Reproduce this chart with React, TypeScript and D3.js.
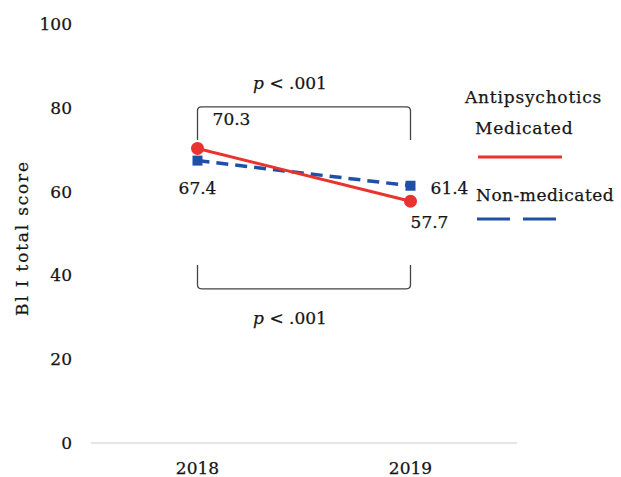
import * as d3 from 'd3';

const years = ['2018', '2019'];
const medicated = [70.3, 57.7];
const nonMedicated = [67.4, 61.4];
const yTicks = [0, 20, 40, 60, 80, 100];
const pLabels = ['p', ' < .001'];

const RED = '#e8332f';
const BLUE = '#1f4fa6';
const FONT = '"DejaVu Serif", serif';

export default function App() {
  const width = 621;
  const height = 477;
  const x = d3.scalePoint<string>().domain(years).range([91, 517]).padding(0.5);
  const y = d3.scaleLinear().domain([0, 100]).range([443, 24]);

  const line = d3
    .line<number>()
    .x((_, i) => x(years[i]) as number)
    .y((d) => y(d));

  const x0 = x(years[0]) as number;
  const x1 = x(years[1]) as number;

  // bracket path with slightly rounded corners
  const bracket = (barV: number, tipV: number) => {
    const yb = y(barV);
    const yt = y(tipV);
    const r = 4 * Math.sign(yt - yb);
    return `M${x0},${yt} L${x0},${yb + r} Q${x0},${yb} ${x0 + 4},${yb} L${x1 - 4},${yb} Q${x1},${yb} ${x1},${yb + r} L${x1},${yt}`;
  };

  const txt = { fontFamily: FONT, fontSize: 17, fill: '#151515', stroke: '#151515', strokeWidth: 0.25 } as const;

  return (
    <svg width={width} height={height} style={{ position: 'absolute', left: 0, top: 0, background: '#fff' }}>
      {/* baseline */}
      <line x1={91} x2={517} y1={y(0)} y2={y(0)} stroke="#e6e6e6" strokeWidth={2} />

      {/* y tick labels */}
      {yTicks.map((t) => (
        <text key={t} x={72} y={y(t)} textAnchor="end" dominantBaseline="central" {...txt}>
          {t}
        </text>
      ))}

      {/* x tick labels */}
      {years.map((yr) => (
        <text key={yr} x={x(yr)} y={468} textAnchor="middle" dominantBaseline="central" {...txt}>
          {yr}
        </text>
      ))}

      <text
        transform={`translate(22, 238) rotate(-90)`}
        textAnchor="middle"
        dominantBaseline="central"
        {...txt}
        fontSize={17}
        letterSpacing={1.8}
      >
        Bl I total score
      </text>

      {/* brackets */}
      <path d={bracket(80.2, 72.3)} fill="none" stroke="#444" strokeWidth={1.3} />
      <path d={bracket(36.8, 42.5)} fill="none" stroke="#444" strokeWidth={1.3} />
      <text x={(x0 + x1) / 2 - 14} y={y(86)} textAnchor="middle" dominantBaseline="central" {...txt}>
        <tspan fontStyle="italic">{pLabels[0]}</tspan>
        {pLabels[1]}
      </text>
      <text x={(x0 + x1) / 2 - 14} y={y(29.8)} textAnchor="middle" dominantBaseline="central" {...txt}>
        <tspan fontStyle="italic">{pLabels[0]}</tspan>
        {pLabels[1]}
      </text>

      {/* series */}
      <path d={line(nonMedicated) ?? ''} fill="none" stroke={BLUE} strokeWidth={3.5} strokeDasharray="12,7" />
      {nonMedicated.map((v, i) => (
        <rect key={i} x={(x(years[i]) as number) - 5} y={y(v) - 5} width={10} height={10} fill={BLUE} />
      ))}
      <path d={line(medicated) ?? ''} fill="none" stroke={RED} strokeWidth={3} />
      {medicated.map((v, i) => (
        <circle key={i} cx={x(years[i])} cy={y(v)} r={6.5} fill={RED} />
      ))}

      {/* value labels */}
      <text x={x0 + 34} y={y(medicated[0]) - 29} textAnchor="middle" dominantBaseline="central" {...txt}>
        {medicated[0].toFixed(1)}
      </text>
      <text x={x0} y={y(nonMedicated[0]) + 27} textAnchor="middle" dominantBaseline="central" {...txt}>
        {nonMedicated[0].toFixed(1)}
      </text>
      <text x={x1 + 39} y={y(nonMedicated[1]) + 2} textAnchor="middle" dominantBaseline="central" {...txt}>
        {nonMedicated[1].toFixed(1)}
      </text>
      <text x={x1 + 19} y={y(medicated[1]) + 21} textAnchor="middle" dominantBaseline="central" {...txt}>
        {medicated[1].toFixed(1)}
      </text>

      {/* legend */}
      <text x={465} y={97} dominantBaseline="central" {...txt} letterSpacing={0.8}>Antipsychotics</text>
      <text x={475} y={128} dominantBaseline="central" {...txt} letterSpacing={0.8}>Medicated</text>
      <line x1={478} x2={562} y1={157} y2={157} stroke={RED} strokeWidth={3} />
      <text x={476} y={195} dominantBaseline="central" {...txt} letterSpacing={0.5}>Non-medicated</text>
      <line x1={477} x2={557} y1={219} y2={219} stroke={BLUE} strokeWidth={3} strokeDasharray="33,13" />
    </svg>
  );
}
